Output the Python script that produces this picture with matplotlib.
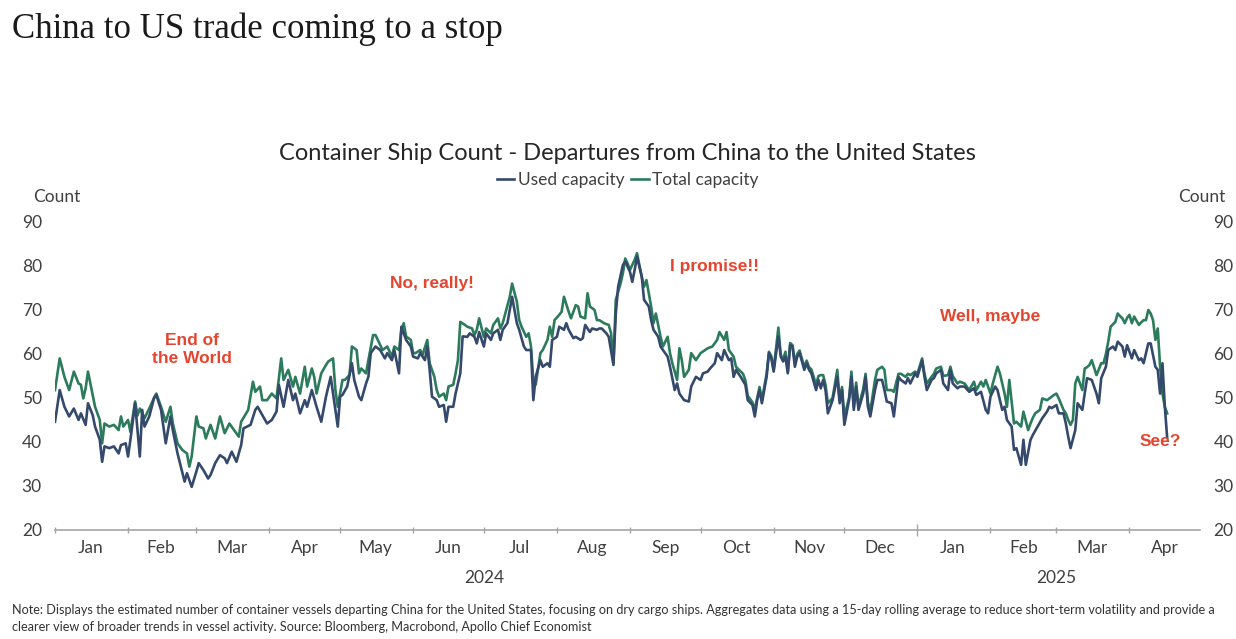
import numpy as np
import matplotlib.pyplot as plt
import matplotlib.dates as mdates

# days since 1 Jan 2024 and ship counts
total_days = [0, 2, 4, 6, 8, 10, 11, 12, 13, 14, 16, 17, 19, 20, 21, 23, 25, 27, 28, 29,
              31, 32, 34, 35, 36, 38, 40, 42, 43, 45, 47, 49, 50, 52, 54, 56, 57, 58, 60, 61,
              63, 64, 66, 68, 70, 72, 74, 76, 78, 79, 82, 84, 85, 87, 88, 90, 92, 94, 96, 97,
              99, 101, 102, 104, 106, 107, 109, 110, 111, 113, 115, 116, 118, 119, 120, 122, 123, 125, 126, 128,
              129, 130, 132, 133, 135, 136, 137, 139, 141, 143, 144, 146, 147, 148, 149, 151, 152, 153, 155, 156,
              158, 159, 161, 162, 163, 165, 166, 167, 169, 170, 171, 172, 174, 175, 177, 178, 179, 180, 182, 183,
              185, 186, 188, 189, 190, 192, 193, 194, 196, 197, 198, 200, 201, 202, 203, 204, 206, 207, 209, 210,
              211, 212, 214, 215, 216, 218, 219, 221, 222, 223, 225, 226, 227, 229, 230, 231, 233, 235, 236, 237,
              238, 240, 241, 242, 243, 244, 246, 247, 249, 250, 251, 253, 254, 255, 257, 258, 260, 261, 262, 264,
              265, 266, 267, 269, 270, 272, 274, 277, 279, 281, 282, 284, 285, 286, 288, 289, 291, 292, 293, 294,
              296, 297, 298, 299, 300, 302, 303, 304, 305, 307, 308, 309, 310, 311, 312, 313, 314, 315, 316, 318,
              319, 320, 321, 323, 324, 325, 326, 327, 328, 330, 332, 333, 334, 335, 337, 338, 339, 340, 341, 343,
              344, 345, 346, 348, 349, 351, 352, 353, 355, 356, 358, 359, 361, 362, 363, 365, 366, 368, 369, 370,
              372, 373, 374, 376, 377, 379, 380, 381, 383, 384, 386, 388, 390, 391, 393, 394, 395, 397, 398, 400,
              401, 403, 404, 405, 407, 408, 410, 411, 413, 414, 415, 416, 418, 419, 421, 422, 423, 424, 425, 426,
              428, 429, 430, 431, 432, 433, 434, 436, 437, 438, 439, 440, 442, 443, 444, 445, 446, 447, 448, 450,
              451, 452, 453, 454, 455, 456, 457, 458, 460, 461, 462, 463, 464, 465, 466, 467, 468, 469, 470, 471,
              472]
total_vals = [51.8, 59.0, 54.8, 51.8, 56.0, 53.3, 53.0, 49.9, 52.2, 56.0, 50.7, 48.0, 45.0, 39.7, 44.2, 43.5, 43.9, 42.7, 45.8, 43.5,
              45.0, 42.3, 49.2, 46.0, 47.6, 45.4, 47.6, 50.0, 51.0, 48.0, 44.6, 48.0, 44.2, 39.7, 38.2, 37.4, 34.4, 36.7, 45.8, 43.5,
              43.1, 40.8, 43.9, 40.8, 45.8, 42.0, 44.2, 42.7, 41.2, 44.6, 47.3, 53.7, 51.4, 52.6, 49.5, 49.5, 51.0, 49.9, 59.0, 54.1,
              56.4, 52.6, 54.8, 51.0, 57.1, 52.6, 56.7, 54.8, 51.0, 55.6, 57.5, 58.3, 59.0, 51.8, 48.0, 54.1, 54.1, 55.2, 61.7, 60.9,
              55.6, 56.7, 55.6, 58.6, 64.3, 64.3, 63.2, 60.9, 61.7, 59.4, 61.7, 60.9, 65.5, 67.0, 64.0, 63.2, 60.2, 60.2, 60.9, 59.8,
              63.2, 57.9, 54.8, 51.8, 50.3, 51.0, 49.5, 52.6, 53.0, 55.6, 58.6, 67.3, 66.6, 66.2, 65.8, 64.3, 65.5, 68.1, 63.9, 65.8,
              64.7, 66.6, 68.1, 65.8, 67.0, 71.0, 73.0, 76.0, 71.9, 67.7, 66.2, 63.9, 64.7, 61.7, 54.0, 53.0, 60.2, 60.9, 63.2, 66.2,
              63.9, 67.7, 68.9, 69.6, 73.0, 69.6, 68.1, 71.1, 70.8, 68.5, 68.1, 73.8, 70.8, 70.0, 67.7, 67.7, 67.0, 66.6, 64.7, 57.9,
              72.3, 76.0, 78.3, 81.7, 80.6, 79.1, 81.4, 82.9, 77.6, 75.3, 76.8, 70.8, 67.0, 69.2, 63.9, 61.7, 63.9, 60.2, 57.9, 54.1,
              61.3, 58.6, 54.8, 56.4, 60.2, 58.6, 60.2, 61.3, 61.7, 63.2, 65.0, 63.2, 65.0, 60.9, 59.4, 57.1, 56.0, 55.5, 54.0, 50.5,
              49.0, 47.3, 50.0, 52.5, 49.5, 55.5, 60.5, 59.5, 56.5, 66.0, 59.8, 58.8, 60.5, 56.0, 62.5, 62.0, 58.0, 60.0, 60.8, 57.0,
              58.5, 57.0, 56.5, 53.0, 55.0, 55.2, 55.2, 53.0, 48.8, 50.0, 56.4, 49.5, 52.5, 45.8, 50.0, 56.0, 48.0, 53.5, 48.0, 52.0,
              55.5, 49.0, 47.0, 54.1, 56.4, 57.1, 56.4, 51.8, 51.8, 51.4, 55.5, 55.5, 54.8, 55.5, 55.2, 56.0, 55.5, 59.0, 55.5, 53.3,
              54.8, 55.5, 56.7, 57.1, 55.0, 55.2, 57.1, 55.0, 53.3, 53.7, 53.3, 51.8, 53.7, 51.8, 53.7, 52.6, 54.1, 51.0, 53.3, 57.1,
              55.6, 51.0, 48.0, 54.1, 44.2, 44.6, 43.5, 46.9, 42.7, 44.2, 45.5, 46.5, 47.3, 49.9, 49.5, 49.9, 50.3, 50.7, 51.0, 49.9,
              47.3, 46.5, 45.0, 43.9, 45.0, 53.3, 54.8, 51.8, 56.7, 57.0, 57.5, 58.6, 55.2, 56.5, 57.9, 57.9, 60.0, 62.8, 66.2, 67.3,
              69.2, 68.6, 68.1, 67.0, 68.2, 68.9, 67.0, 68.5, 66.6, 67.2, 67.7, 67.7, 70.0, 69.2, 67.7, 63.2, 65.8, 57.1, 51.0, 48.0,
              46.5]

used_days = [0, 2, 4, 6, 8, 10, 11, 13, 14, 16, 17, 19, 20, 21, 23, 25, 27, 28, 30, 31,
             32, 34, 36, 37, 38, 40, 42, 43, 45, 47, 49, 50, 52, 55, 56, 58, 60, 61, 63, 65,
             66, 68, 70, 72, 73, 75, 77, 79, 80, 83, 85, 86, 88, 90, 92, 94, 95, 97, 99, 101,
             102, 104, 106, 107, 109, 111, 113, 115, 117, 118, 120, 121, 122, 124, 126, 127, 129, 130, 132, 133,
             134, 136, 138, 140, 141, 143, 144, 146, 147, 149, 151, 152, 154, 155, 157, 158, 159, 160, 162, 163,
             165, 166, 167, 169, 170, 172, 173, 175, 176, 178, 179, 180, 182, 183, 185, 186, 188, 189, 190, 192,
             193, 194, 196, 197, 199, 200, 202, 203, 204, 206, 207, 209, 210, 211, 213, 214, 216, 217, 218, 220,
             221, 223, 224, 225, 227, 228, 230, 231, 232, 234, 235, 237, 238, 239, 241, 242, 244, 245, 246, 247,
             249, 250, 252, 253, 254, 256, 257, 258, 260, 261, 263, 264, 265, 267, 269, 270, 272, 274, 275, 277,
             278, 280, 281, 283, 284, 286, 287, 288, 289, 291, 293, 294, 296, 297, 298, 299, 300, 302, 303, 304,
             305, 307, 308, 309, 310, 311, 312, 313, 314, 315, 316, 318, 319, 320, 321, 323, 324, 325, 326, 327,
             328, 330, 332, 333, 334, 335, 337, 338, 339, 340, 341, 343, 344, 345, 346, 348, 349, 351, 352, 353,
             355, 356, 358, 359, 361, 362, 363, 365, 366, 368, 369, 370, 372, 373, 374, 376, 377, 379, 380, 381,
             383, 384, 386, 388, 390, 391, 393, 395, 396, 397, 399, 400, 402, 403, 404, 406, 407, 408, 410, 411,
             412, 414, 415, 417, 419, 421, 422, 423, 425, 426, 428, 429, 430, 431, 433, 434, 436, 437, 438, 440,
             442, 443, 444, 446, 447, 449, 450, 451, 453, 454, 455, 457, 458, 460, 461, 462, 464, 465, 467, 468,
             469, 470, 471, 472]
used_vals = [44.6, 51.8, 48.0, 45.8, 47.6, 45.0, 46.5, 43.9, 48.8, 46.1, 43.5, 40.5, 35.5, 39.0, 38.6, 39.0, 37.4, 39.3, 39.7, 36.7,
             40.5, 48.8, 36.7, 47.3, 43.5, 45.8, 49.9, 50.7, 47.3, 39.7, 45.8, 42.7, 37.4, 31.0, 32.9, 29.8, 33.3, 35.2, 33.6, 31.7,
             32.5, 35.2, 37.0, 36.3, 35.2, 37.8, 35.5, 39.3, 43.1, 43.9, 47.3, 48.0, 46.1, 44.2, 45.0, 46.9, 53.0, 48.0, 54.1, 49.5,
             51.0, 46.5, 49.5, 48.0, 51.8, 48.0, 44.6, 50.3, 54.8, 51.0, 43.5, 50.3, 50.7, 52.6, 57.9, 54.1, 50.3, 49.5, 53.3, 54.8,
             60.2, 61.7, 60.9, 59.0, 60.2, 58.6, 60.9, 55.6, 66.2, 63.2, 61.7, 59.4, 59.0, 60.2, 58.6, 61.7, 56.4, 50.3, 49.5, 48.0,
             48.4, 44.6, 48.0, 48.0, 51.0, 55.6, 64.0, 63.9, 64.7, 63.9, 62.4, 65.0, 61.7, 64.7, 63.2, 64.7, 65.5, 63.2, 65.5, 67.0,
             70.0, 73.0, 67.0, 65.5, 61.7, 60.9, 60.9, 49.5, 54.8, 58.6, 57.1, 57.9, 57.1, 63.2, 63.9, 66.2, 65.5, 67.0, 65.5, 63.6,
             63.9, 63.2, 63.6, 66.6, 65.0, 65.8, 65.5, 65.8, 65.8, 64.7, 63.9, 57.5, 69.2, 75.3, 80.2, 81.0, 78.7, 76.4, 79.1, 82.1,
             77.6, 72.3, 70.8, 67.7, 65.5, 63.9, 61.7, 60.9, 59.4, 57.1, 51.8, 53.3, 51.0, 49.5, 49.2, 52.6, 54.8, 54.1, 55.6, 56.0,
             56.7, 57.9, 60.2, 58.6, 60.9, 58.6, 59.0, 54.8, 56.4, 54.8, 53.0, 49.5, 48.4, 45.8, 49.5, 51.8, 48.8, 54.8, 60.2, 59.0,
             56.0, 64.0, 59.4, 58.3, 59.4, 55.6, 62.0, 61.7, 57.1, 59.4, 60.2, 56.4, 57.9, 56.4, 55.6, 51.8, 54.1, 52.2, 54.1, 51.8,
             46.5, 49.5, 54.8, 48.8, 51.8, 43.9, 49.5, 54.8, 47.3, 52.6, 47.3, 51.0, 54.8, 48.0, 45.8, 51.8, 54.1, 54.1, 51.8, 49.2,
             48.8, 45.8, 54.8, 54.1, 53.3, 54.5, 53.3, 55.6, 54.8, 58.5, 54.8, 51.8, 54.1, 54.5, 55.6, 56.4, 53.3, 51.8, 56.4, 53.3,
             52.2, 52.6, 52.6, 51.4, 52.2, 50.7, 51.4, 47.3, 46.5, 50.3, 52.6, 51.8, 47.3, 48.0, 45.0, 43.5, 38.2, 38.6, 34.8, 40.5,
             34.8, 40.5, 41.6, 43.5, 45.4, 46.9, 48.0, 47.7, 48.4, 46.5, 46.5, 44.2, 41.2, 38.6, 42.7, 48.8, 47.3, 51.0, 54.5, 54.1,
             51.0, 48.8, 54.5, 57.1, 60.9, 61.7, 60.9, 62.8, 61.7, 59.4, 62.0, 59.0, 60.9, 58.6, 59.0, 57.9, 62.4, 62.4, 57.1, 56.4,
             51.0, 57.9, 48.0, 41.0]

yticks = [20, 30, 40, 50, 60, 70, 80, 90]
month_names = ['Jan', 'Feb', 'Mar', 'Apr', 'May', 'Jun', 'Jul', 'Aug', 'Sep', 'Oct', 'Nov', 'Dec',
               'Jan', 'Feb', 'Mar', 'Apr']

# annotations: (text, date, value)
notes = [('End of\nthe World', '2024-02-28', 61.0),
         ('No, really!', '2024-06-09', 76.1),
         ('I promise!!', '2024-10-07', 79.8),
         ('Well, maybe', '2025-02-01', 68.6),
         ('See?', '2025-04-14', 40.2)]

start = np.datetime64('2024-01-01')
t_total = start + np.array(total_days).astype('timedelta64[D]')
t_used = start + np.array(used_days).astype('timedelta64[D]')

navy = '#34496c'
green = '#2b7b5c'
grey = '#404040'
red = '#e5452f'
sans = ['Lato', 'DejaVu Sans']

plt.rcParams['font.family'] = sans

fig = plt.figure(figsize=(12.36, 6.39), dpi=100)
ax = fig.add_axes([0.0445, 0.1706, 0.9265, 0.482])

ax.plot(t_total, total_vals, color=green, lw=1.9, label='Total capacity', zorder=2)
ax.plot(t_used, used_vals, color=navy, lw=1.9, label='Used capacity', zorder=3)

ax.set_ylim(20, 90)
ax.set_xlim(np.datetime64('2024-01-01'), np.datetime64('2025-05-01'))
ax.set_yticks(yticks)
ax.tick_params(axis='y', left=False, right=False, labelleft=True, labelright=True,
               labelsize=12.5, labelcolor=grey, pad=6)

for s in ['left', 'right', 'top']:
    ax.spines[s].set_visible(False)
ax.spines['bottom'].set_color('#a6a6a6')
ax.spines['bottom'].set_linewidth(1.2)

# month boundaries as ticks, month names centred between them
mstarts = np.arange(np.datetime64('2024-01'), np.datetime64('2025-06'), 1).astype('datetime64[D]')
ax.set_xticks(mdates.date2num(mstarts[:-1]))
ax.set_xticklabels([])
mids = mstarts[:-1] + (mstarts[1:] - mstarts[:-1]) / 2
ax.set_xticks(mdates.date2num(mids), minor=True)
ax.set_xticklabels(month_names, minor=True)
ax.tick_params(axis='x', which='major', direction='inout', length=4, color='#a6a6a6', width=1)
ax.tick_params(axis='x', which='minor', length=0, labelsize=12.5, labelcolor=grey, pad=7)
ax.xaxis.get_major_ticks()[12].tick1line.set_markersize(8)

ax.text(mdates.date2num(np.datetime64('2024-07-01')), -0.155, '2024', transform=ax.get_xaxis_transform(),
        ha='center', va='center', fontsize=12.5, color=grey)
ax.text(mdates.date2num(np.datetime64('2025-03-01')), -0.155, '2025', transform=ax.get_xaxis_transform(),
        ha='center', va='center', fontsize=12.5, color=grey)

for txt, d, v in notes:
    ax.text(np.datetime64(d), v, txt, ha='center', va='center', color=red, fontsize=12.5,
            fontweight='bold', family=['Liberation Sans', 'DejaVu Sans'], linespacing=1.3)

fig.text(0.0267, 0.692, 'Count', ha='left', va='center', fontsize=12.5, color=grey)
fig.text(0.991, 0.692, 'Count', ha='right', va='center', fontsize=12.5, color=grey)

fig.text(0.0097, 0.955, 'China to US trade coming to a stop', ha='left', va='center',
         fontsize=25, color='#1a1a1a', family=['Liberation Serif', 'DejaVu Serif'])
fig.text(0.508, 0.760, 'Container Ship Count - Departures from China to the United States',
         ha='center', va='center', fontsize=17, color='#262626')

handles, labels = ax.get_legend_handles_labels()
fig.legend(handles[::-1], labels[::-1], loc='center', bbox_to_anchor=(0.508, 0.718), ncol=2,
           frameon=False, fontsize=12.5, handlelength=1.0, handletextpad=0.2, columnspacing=0.4,
           labelcolor=grey)

fig.text(0.0097, 0.032,
         'Note: Displays the estimated number of container vessels departing China for the United States, '
         'focusing on dry cargo ships. Aggregates data using a 15-day rolling average to reduce short-term '
         'volatility and provide a\nclearer view of broader trends in vessel activity. Source: Bloomberg, '
         'Macrobond, Apollo Chief Economist',
         ha='left', va='center', fontsize=9.1, color='#333333', linespacing=1.45)

fig.savefig('out.png', dpi=100, facecolor='white')
